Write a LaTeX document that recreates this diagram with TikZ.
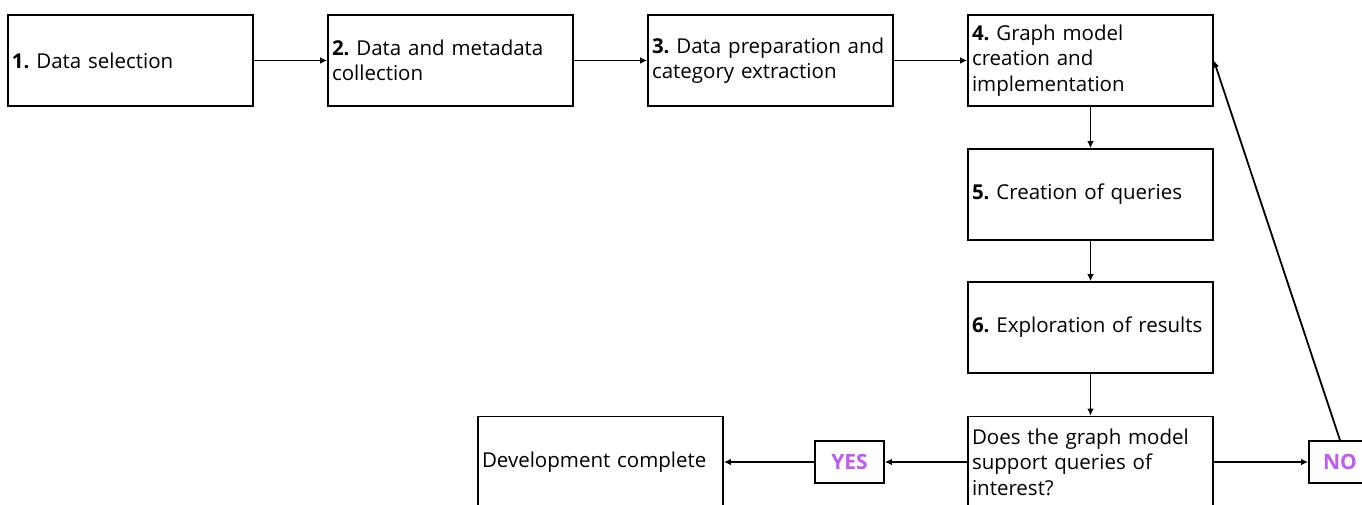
\documentclass[tikz,border=0pt]{standalone}
\usepackage{fontspec}
\setmainfont{Open Sans}
\usetikzlibrary{arrows.meta}
\definecolor{answer}{RGB}{191,90,242}
\frenchspacing
\tikzset{
  stepbox/.style={draw, line width=1.6pt, minimum width=245pt, minimum height=91pt,
    text width=237pt, inner sep=4pt, align=left, anchor=center,
    font=\fontsize{20.5}{25.5}\selectfont},
  tagbox/.style={draw, line width=1.6pt, minimum height=42pt, inner sep=4pt,
    text=answer, font=\fontsize{21}{25}\selectfont\bfseries},
  flow/.style={line width=1.8pt, -{Latex[length=7pt,width=6.5pt]}}
}
\begin{document}
\begin{tikzpicture}[x=1pt,y=-1pt]
\useasboundingbox (0,0) rectangle (1362,504);
\node[stepbox] (s1) at (130.5,60.5) {\textbf{1.} Data selection};
\node[stepbox] (s2) at (450.5,60.5) {\textbf{2.} Data and metadata\\collection};
\node[stepbox] (s3) at (770.5,60.5) {\textbf{3.} Data preparation and\\category extraction};
\node[stepbox] (s4) at (1090.5,60.5) {\textbf{4.} Graph model\\creation and\\implementation};
\node[stepbox] (s5) at (1090.5,194.5) {\textbf{5.} Creation of queries};
\node[stepbox] (s6) at (1090.5,327.5) {\textbf{6.} Exploration of results};
\node[stepbox] (q) at (1090.5,462) {Does the graph model\\support queries of\\interest?};
\node[stepbox] (done) at (600.5,462) {Development complete};
\node[tagbox, minimum width=69pt] (yes) at (849.5,462) {YES};
\node[tagbox, minimum width=62pt] (no) at (1340,462) {NO};
\draw[flow] (s1) -- (s2);
\draw[flow] (s2) -- (s3);
\draw[flow] (s3) -- (s4);
\draw[flow] (s4) -- (s5);
\draw[flow] (s5) -- (s6);
\draw[flow] (s6) -- (q);
\draw[flow] (q) -- (yes);
\draw[flow] (yes) -- (done);
\draw[flow] (q) -- (no);
\draw[flow] (no.north) -- (s4.east);
\end{tikzpicture}
\end{document}
